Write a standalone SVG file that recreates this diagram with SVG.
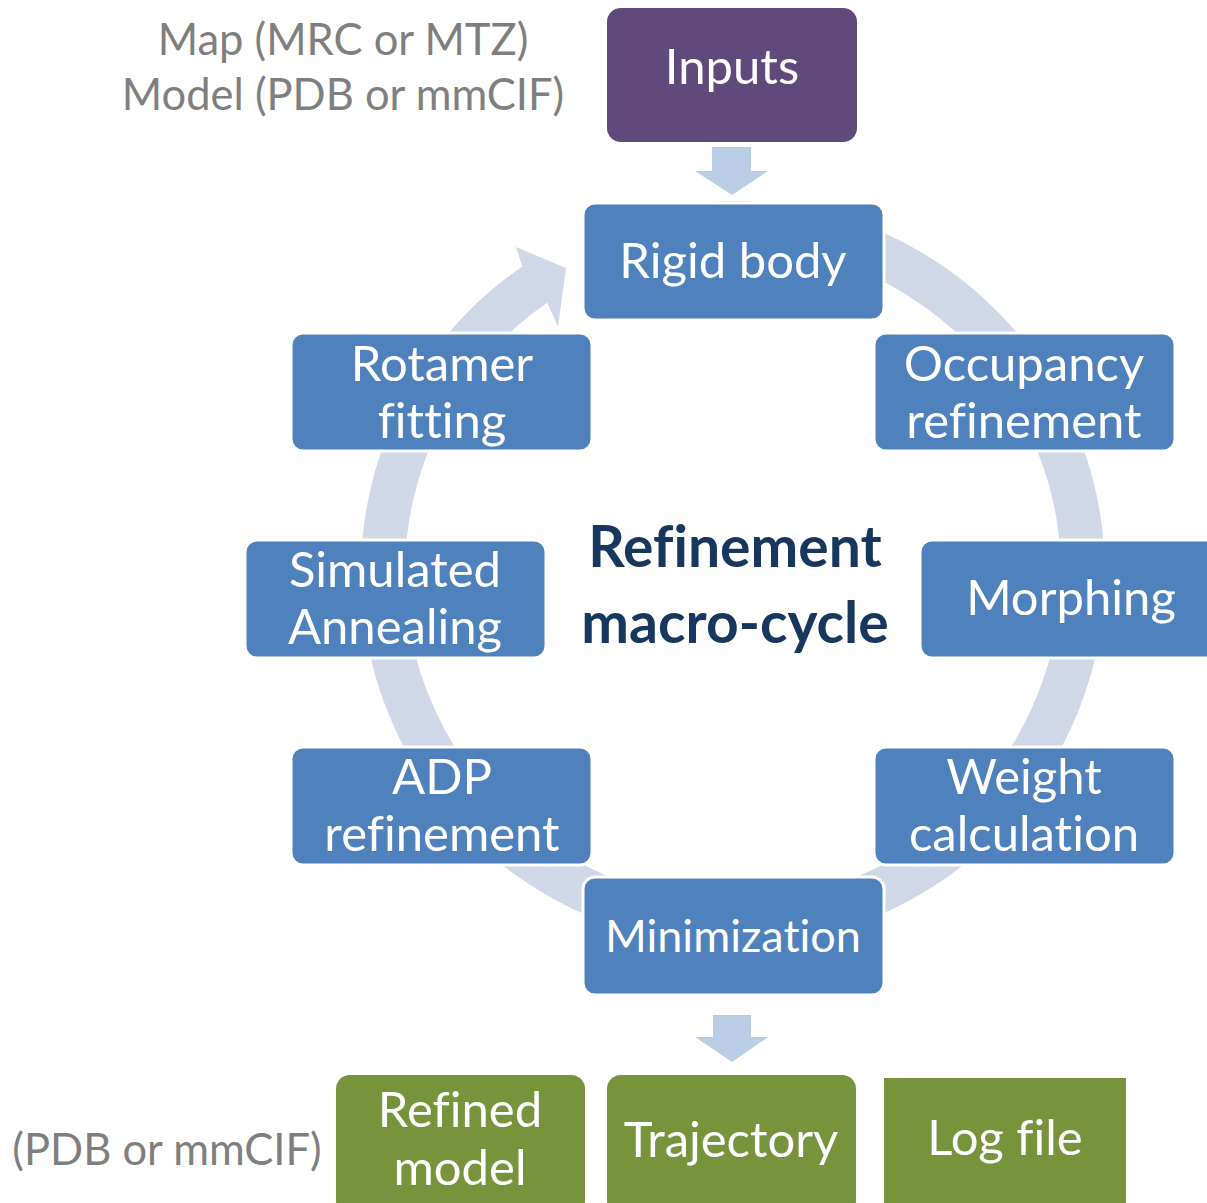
<svg xmlns="http://www.w3.org/2000/svg" width="1207" height="1203" viewBox="0 0 1207 1203">
<style>
text{font-variant-ligatures:none;font-feature-settings:"liga" 0}
.node rect{fill:#4F81BD;stroke:#FFFFFF;stroke-width:3}
.t{font-family:Lato,"Open Sans","Liberation Sans",sans-serif;fill:#FFFFFF;text-anchor:middle;font-size:49px}
.g{font-family:Lato,"Open Sans","Liberation Sans",sans-serif;fill:#7F7F7F;text-anchor:middle;font-size:43.5px}
.c{font-family:Lato,"Open Sans","Liberation Sans",sans-serif;font-weight:bold;font-size:57px;fill:#17375E;text-anchor:middle}
.green rect{fill:#77933C}
.ring{fill:#D0D8E8}
.down{fill:#B9CDE5}
</style>
<rect width="1207" height="1203" fill="#FFFFFF"/>
<g id="connectors">
  <path class="ring" d="M668.4,206.7 A372,372 0 1 1 522.3,266.4 L516,247 L566,268 L558,327 L547.2,302.7 A328,328 0 1 0 676,250 Z"/>
  <polygon class="down" points="712,147 751,147 751,171 768,171 732,195 695,171 712,171"/>
  <polygon class="down" points="713,1015 751,1015 751,1037 768,1037 732,1062 695,1037 713,1037"/>
</g>
<g id="labels">
  <text class="g" x="343" y="55">Map (MRC or MTZ)</text>
  <text class="g" x="343" y="110">Model (PDB or mmCIF)</text>
  <text class="g" x="167" y="1165">(PDB or mmCIF)</text>
</g>
<g id="inputs">
  <rect x="607" y="8" width="250" height="134" rx="14" fill="#604A7B"/>
  <text class="t" x="732" y="84">Inputs</text>
</g>
<g id="rigid-body" class="node">
  <rect x="583" y="203" width="301" height="117" rx="12"/>
  <text class="t" x="733" y="278">Rigid body</text>
</g>
<g id="occupancy" class="node">
  <rect x="874" y="333" width="301" height="118" rx="12"/>
  <text class="t" x="1024" y="381">Occupancy</text>
  <text class="t" x="1024" y="438">refinement</text>
</g>
<g id="morphing" class="node">
  <rect x="920" y="540" width="301" height="118" rx="12"/>
  <text class="t" x="1071" y="615">Morphing</text>
</g>
<g id="weight" class="node">
  <rect x="874" y="747" width="301" height="118" rx="12"/>
  <text class="t" x="1024" y="794">Weight</text>
  <text class="t" x="1024" y="851">calculation</text>
</g>
<g id="minimization" class="node">
  <rect x="583" y="877" width="301" height="118" rx="12"/>
  <text class="t" x="733" y="952" style="font-size:45px">Minimization</text>
</g>
<g id="adp" class="node">
  <rect x="291" y="747" width="301" height="118" rx="12"/>
  <text class="t" x="442" y="794">ADP</text>
  <text class="t" x="442" y="851">refinement</text>
</g>
<g id="simulated" class="node">
  <rect x="245" y="540" width="301" height="118" rx="12"/>
  <text class="t" x="395" y="587">Simulated</text>
  <text class="t" x="395" y="644">Annealing</text>
</g>
<g id="rotamer" class="node">
  <rect x="291" y="333" width="301" height="118" rx="12"/>
  <text class="t" x="442" y="381">Rotamer</text>
  <text class="t" x="442" y="438">fitting</text>
</g>
<g id="center-label">
  <text class="c" x="735" y="567">Refinement</text>
  <text class="c" x="735" y="643">macro-cycle</text>
</g>
<g id="refined-model" class="green">
  <rect x="336" y="1075" width="249" height="140" rx="14"/>
  <text class="t" x="460" y="1127">Refined</text>
  <text class="t" x="460" y="1185">model</text>
</g>
<g id="trajectory" class="green">
  <rect x="607" y="1075" width="249" height="140" rx="14"/>
  <text class="t" x="731" y="1157">Trajectory</text>
</g>
<g id="log-file" class="green">
  <rect x="884" y="1078" width="242" height="125"/>
  <text class="t" x="1005" y="1155">Log file</text>
</g>
</svg>
